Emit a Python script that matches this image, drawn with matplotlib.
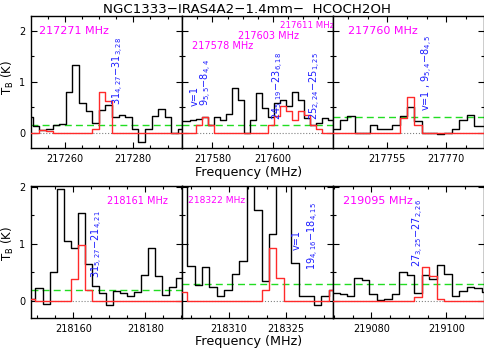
import matplotlib
matplotlib.use('Agg')
import matplotlib.pyplot as plt
from matplotlib.ticker import MultipleLocator, FormatStrFormatter

# Espectros observados (negro) y modelo (rojo): frecuencia del canal en MHz, T_B en K
freq1 = [217249.72, 217251.65, 217253.57, 217255.49, 217257.42, 217259.34, 217261.27,
         217263.19, 217265.11, 217267.04, 217268.96, 217270.89, 217272.81, 217274.74,
         217276.66, 217278.58, 217280.51, 217282.43, 217284.36, 217286.28, 217288.21,
         217290.13, 217292.05, 217293.98, 217295.90]
obs1 = [0.30, 0.13, 0.05, 0.07, 0.15, 0.17, 0.80, 1.33, 0.58, 0.43, 0.19, 0.45, 0.55,
        0.30, 0.35, 0.30, 0.07, -0.18, 0.07, 0.32, 0.46, 0.30, 0.00, 0.08, 0.08]
mod1 = [0, 0, 0.05, 0.04, 0, 0, 0, 0, 0, 0, 0.08, 0.80, 0.62, 0, 0, 0, 0, 0, 0, 0, 0,
        0, 0, 0, 0]

freq2 = [217569.59, 217571.56, 217573.54, 217575.52, 217577.50, 217579.48, 217581.46,
         217583.44, 217585.42, 217587.40, 217589.38, 217591.36, 217593.34, 217595.31,
         217597.29, 217599.27, 217601.25, 217603.23, 217605.21, 217607.19, 217609.17,
         217611.15, 217613.13, 217615.11, 217617.09, 217619.06, 217621.04]
obs2 = [0.22, 0.22, 0.24, 0.26, 0.31, 0.15, 0.31, 0.25, 0.36, 0.87, 0.64, 0.00, 0.25,
        0.77, 0.48, 0.30, 0.58, 0.64, 0.52, 0.79, 0.64, 0.28, 0.15, 0.18, 0.29, 0.25, 0.25]
mod2 = [0, 0, 0, 0.15, 0.31, 0.15, 0, 0, 0, 0, 0, 0, 0, 0, 0, 0.16, 0.33, 0.53, 0.42,
        0.25, 0.42, 0.35, 0.15, 0.08, 0, 0, 0]

freq3 = [217739.99, 217741.91, 217743.81, 217745.72, 217747.63, 217749.53, 217751.44,
         217753.35, 217755.25, 217757.16, 217759.07, 217760.97, 217762.88, 217764.79,
         217766.69, 217768.60, 217770.51, 217772.42, 217774.32, 217776.23, 217778.14,
         217780.04]
obs3 = [0.08, 0.08, 0.25, 0.33, 0.00, 0.00, 0.16, 0.08, 0.08, 0.16, 0.33, 0.51, 0.23,
        0.00, 0.00, -0.03, 0.00, 0.07, 0.25, 0.35, 0.14, 0.14]
mod3 = [0, 0, 0, 0, 0, 0, 0, 0, 0, 0, 0.28, 0.69, 0.16, 0, 0, 0, 0, 0, 0, 0, 0, 0]

freq4 = [218146.60, 218148.55, 218150.51, 218152.46, 218154.41, 218156.37, 218158.32,
         218160.28, 218162.23, 218164.18, 218166.14, 218168.09, 218170.05, 218172.00,
         218173.95, 218175.91, 218177.86, 218179.82, 218181.77, 218183.72, 218185.68,
         218187.63, 218189.59, 218191.54]
obs4 = [0.03, 0.03, 0.22, -0.06, 0.51, 1.97, 1.05, 0.92, 1.55, 0.64, 0.27, 0.13, -0.07,
        0.18, 0.13, 0.09, 0.16, 0.45, 0.92, 0.44, 0.10, 0.25, 0.41, 0.41]
mod4 = [0.04, 0.04, 0, 0, 0, 0, 0, 0.38, 0.98, 0.20, 0, 0, 0, 0, 0, 0, 0, 0, 0, 0, 0,
        0, 0, 0]

freq5 = [218296.01, 218297.97, 218299.93, 218301.89, 218303.85, 218305.82, 218307.78,
         218309.74, 218311.70, 218313.66, 218315.62, 218317.59, 218319.55, 218321.51,
         218323.47, 218325.43, 218327.39, 218329.36, 218331.32, 218333.28, 218335.24,
         218337.20, 218339.16]
obs5 = [2.6, 2.6, 0.61, 0.28, 0.60, 0.25, 0.09, 0.19, 0.48, 0.70, 2.5, 1.60, 0.35, 1.17,
        2.6, 2.4, 0.67, 0.09, 0.09, -0.08, 0.09, 0.20, 0.20]
mod5 = [0.16, 0.16, 0, 0, 0, 0, 0, 0, 0, 0, 0, 0, 0.20, 0.92, 0.40, 0, 0, 0, 0, 0, 0,
        0.20, 0.20]

freq6 = [219068.55, 219070.54, 219072.53, 219074.52, 219076.52, 219078.51, 219080.50,
         219082.49, 219084.48, 219086.47, 219088.46, 219090.45, 219092.44, 219094.44,
         219096.43, 219098.42, 219100.41, 219102.40, 219104.39, 219106.38, 219108.37,
         219110.36]
obs6 = [0.13, 0.13, 0.12, 0.09, 0.40, 0.37, 0.12, 0.02, 0.04, 0.12, 0.51, 0.46, 0.13,
        0.46, 0.38, 0.63, 0.48, 0.08, 0.18, 0.25, 0.22, 0.16]
mod6 = [0, 0, 0, 0, 0, 0, 0, 0, 0, 0, 0, 0, 0.06, 0.60, 0.44, 0.03, 0, 0, 0, 0, 0, 0]

# nivel de 3 sigma (linea verde)
ruido = [0.15, 0.15, 0.30, 0.20, 0.30, 0.30]

# etiquetas de frecuencia (rosa) y transiciones (azul)
frecs = [['217271 MHz'], ['217611 MHz', '217603 MHz', '217578 MHz'], ['217760 MHz'],
         ['218161 MHz'], ['218322 MHz'], ['219095 MHz']]
trans = [[r'$\mathregular{31_{4,27}{-}31_{3,28}}$'],
         ['v=1\n' + r'$\mathregular{9_{5,5}{-}8_{4,4}}$',
          r'$\mathregular{24_{5,19}{-}23_{6,18}}$', r'$\mathregular{25_{2,24}{-}25_{1,25}}$'],
         [r'v=1 , $\mathregular{9_{5,4}{-}8_{4,5}}$'],
         [r'$\mathregular{31_{5,27}{-}21_{4,21}}$'],
         ['v=1', r'$\mathregular{19_{4,16}{-}18_{4,15}}$'],
         [r'$\mathregular{27_{3,25}{-}27_{2,26}}$']]

# posiciones de los textos
pos_frecs = [[(0.057, 0.884, 8)], [(0.649, 0.93, 6.2), (0.373, 0.847, 7), (0.064, 0.768, 7)],
             [(0.101, 0.884, 8)], [(0.506, 0.886, 7)], [(0.042, 0.886, 6.6)],
             [(0.068, 0.886, 8)]]
pos_trans = [[(217275.7, 0.54)],
             [(217576.4, 0.52), (217601.8, 0.25), (217614.0, 0.25)],
             [(217765.2, 0.43)], [(218166.8, 0.41)],
             [(218327.7, 0.90), (218332.2, 0.55)], [(219092.5, 0.60)]]

limx = [(217250.1, 217294.2), (217569.95, 217619.8), (217741.2, 217779.6),
        (218148.2, 218190.2), (218297.6, 218337.4), (219069.8, 219110.0)]
paso = [20, 20, 15, 20, 15, 20]

freqs = [freq1, freq2, freq3, freq4, freq5, freq6]
obs = [obs1, obs2, obs3, obs4, obs5, obs6]
mods = [mod1, mod2, mod3, mod4, mod5, mod6]

fig = plt.figure(figsize=(4.85, 3.48), dpi=100)
lefts = [0.0633, 0.3753, 0.6866]
widths = [0.312, 0.3113, 0.3113]

for i in range(6):
    fila, col = divmod(i, 3)
    bottom = 0.5747 if fila == 0 else 0.0862
    ax = fig.add_axes([lefts[col], bottom, widths[col], 0.380])

    ax.axhline(0, color='gray', ls=':', lw=0.8, zorder=1)
    ax.axhline(ruido[i], color='#22dd22', ls=(0, (5, 3)), lw=1.0, zorder=2)
    ax.step(freqs[i], obs[i], where='mid', color='black', lw=1.0, zorder=3)
    ax.step(freqs[i], mods[i], where='mid', color='#ff2a2a', lw=1.0, zorder=4)

    ax.set_xlim(*limx[i])
    ax.set_ylim(-0.3, 2.29 if fila == 0 else 2.02)
    ax.xaxis.set_major_locator(MultipleLocator(paso[i]))
    ax.xaxis.set_minor_locator(MultipleLocator(5))
    ax.yaxis.set_major_locator(MultipleLocator(1))
    ax.yaxis.set_minor_locator(MultipleLocator(0.5))
    ax.xaxis.set_major_formatter(FormatStrFormatter('%d'))
    ax.tick_params(which='both', direction='in', top=True, right=True, width=0.8,
                   labelsize=7)
    ax.tick_params(which='major', length=4, pad=4)
    ax.tick_params(which='minor', length=2)
    if col != 0:
        ax.set_yticklabels([])
    for s in ax.spines.values():
        s.set_linewidth(1.0)

    for txt, (x, y, fs) in zip(frecs[i], pos_frecs[i]):
        ax.text(x, y, txt, transform=ax.transAxes, color='#ff00ff', fontsize=fs,
                va='center', ha='left')
    for txt, (x, y) in zip(trans[i], pos_trans[i]):
        ax.text(x, y, txt, color='#1a1aff', fontsize=7, rotation=90,
                ha='center', va='bottom', multialignment='left', linespacing=0.9,
                zorder=5)

fig.text(0.51, 0.99, 'NGC1333\u2212IRAS4A2\u22121.4mm\u2212  HCOCH2OH', ha='center',
         va='top', fontsize=9.6)
fig.text(0.513, 0.503, 'Frequency (MHz)', ha='center', va='center', fontsize=9.2)
fig.text(0.513, 0.018, 'Frequency (MHz)', ha='center', va='center', fontsize=9.2)
fig.text(0.0155, 0.777, r'T$_\mathregular{B}$ (K)', rotation=90, ha='center',
         va='center', fontsize=8.5)
fig.text(0.0155, 0.30, r'T$_\mathregular{B}$ (K)', rotation=90, ha='center',
         va='center', fontsize=8.5)

fig.savefig('out.png', dpi=100)
